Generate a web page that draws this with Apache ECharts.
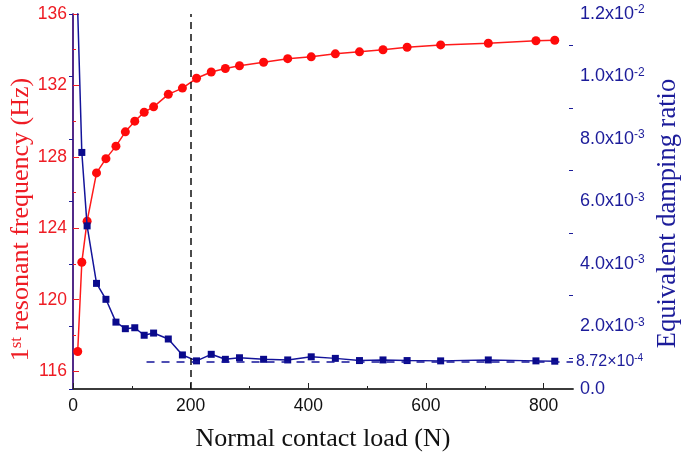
<!DOCTYPE html>
<html><head><meta charset="utf-8">
<script src="https://cdn.jsdelivr.net/npm/echarts@6/dist/echarts.min.js"></script>
<style>html,body{margin:0;padding:0;background:#fff}#c{width:685px;height:458px}</style>
</head><body><div id="c"></div>
<script>
const loads = [8, 15, 24, 40, 56, 73, 89, 105, 121, 137, 162, 186, 210, 235, 259, 283, 324, 365, 405, 446, 487, 527, 568, 625, 706, 787, 819];
const freq = [117.1, 122.1, 124.4, 127.1, 127.9, 128.6, 129.4, 130.0, 130.5, 130.8, 131.5, 131.85, 132.4, 132.75, 132.95, 133.1, 133.3, 133.5, 133.6, 133.77, 133.88, 134.0, 134.14, 134.27, 134.36, 134.5, 134.53];
const damping = [0.0121, 0.00757, 0.00522, 0.00338, 0.00287, 0.00214, 0.00193, 0.00196, 0.00172, 0.00179, 0.0016, 0.00109, 0.0009, 0.00111, 0.00095, 0.001, 0.00095, 0.00093, 0.00103, 0.00098, 0.00091, 0.00093, 0.00091, 0.0009, 0.00093, 0.0009, 0.00089];
const xLabels = [0, 200, 400, 600, 800];
const xMinor = [100, 300, 500, 700];
const freqLabels = [116, 120, 124, 128, 132, 136];
const freqMinor = [118, 122, 126, 130, 134];
const dampLabels = [0, 0.002, 0.004, 0.006, 0.008, 0.010, 0.012];
const dampMinor = [0.001, 0.003, 0.005, 0.007, 0.009, 0.011];
const refDamping = 0.000872;
const refStart = 125;
const verticalRef = 200;

const RED = '#ee1c24', BLUE = '#1c1c9a';
const sans = 'Liberation Sans', serif = 'Liberation Serif';
function expFmt(v) {
  if (Math.abs(v) < 1e-12) return '{b|0.0}';
  const e = Math.floor(Math.log10(v) + 1e-9);
  const m = (v / Math.pow(10, e)).toFixed(1);
  return '{b|' + m + 'x10}{s|' + e + '}';
}
const chart = echarts.init(document.getElementById('c'));
chart.setOption({
  animation: false,
  grid: {left: 73, right: 112, top: 14, bottom: 69, containLabel: false, outerBoundsMode: 'none'},
  xAxis: [
    {type: 'value', min: 0, max: 850, position: 'bottom',
     name: 'Normal contact load (N)', nameLocation: 'middle', nameGap: 37, nameMoveOverlap: false,
     nameTextStyle: {fontFamily: serif, fontSize: 26, color: '#111'},
     axisLine: {lineStyle: {color: '#222', width: 1.5}},
     axisTick: {inside: true, length: 6, customValues: xLabels, lineStyle: {color: '#222'}},
     axisLabel: {customValues: xLabels, fontFamily: sans, fontSize: 17.5, color: '#111', margin: 8},
     splitLine: {show: false}},
    {type: 'value', min: 0, max: 850, position: 'top',
     axisLine: {lineStyle: {color: '#333', width: 1.5}}, axisTick: {show: false},
     axisLabel: {show: false}, splitLine: {show: false}},
    {type: 'value', min: 0, max: 850, position: 'bottom',
     axisLine: {show: false},
     axisTick: {inside: true, length: 3, customValues: xMinor, lineStyle: {color: '#222'}},
     axisLabel: {show: false}, splitLine: {show: false}}
  ],
  yAxis: [
    {type: 'value', min: 115, max: 136, position: 'left',
     name: '{a|1}{s|st}{a| resonant frequency (Hz)}', nameLocation: 'middle', nameGap: 39, nameRotate: 90,
     nameMoveOverlap: false,
     nameTextStyle: {color: RED, padding: [0, 36, 0, 0],
       rich: {a: {fontFamily: serif, fontSize: 26, color: RED},
              s: {fontFamily: serif, fontSize: 17, color: RED, verticalAlign: 'top', padding: [0, 0, 9, 0]}}},
     axisLine: {lineStyle: {color: RED, width: 1.5}},
     axisTick: {inside: true, length: 6, customValues: freqLabels, lineStyle: {color: RED}},
     axisLabel: {customValues: freqLabels, fontFamily: sans, fontSize: 17.5, color: RED, margin: 6},
     splitLine: {show: false}},
    {type: 'value', min: 0, max: 0.012, position: 'right',
     name: 'Equivalent damping ratio', nameLocation: 'middle', nameGap: 82, nameRotate: 90,
     nameMoveOverlap: false,
     nameTextStyle: {fontFamily: serif, fontSize: 26.5, color: BLUE, padding: [0, 24, 0, 0]},
     axisLine: {lineStyle: {color: BLUE, width: 1.5}},
     axisTick: {inside: true, length: 4, customValues: dampLabels, lineStyle: {color: BLUE}},
     axisLabel: {customValues: dampLabels, formatter: expFmt, margin: 7,
       rich: {b: {fontFamily: sans, fontSize: 18, color: BLUE},
              s: {fontFamily: sans, fontSize: 12, color: BLUE, verticalAlign: 'top', padding: [0, 0, 8, 0]}}},
     splitLine: {show: false}},
    {type: 'value', min: 115, max: 136, position: 'left',
     axisLine: {show: false},
     axisTick: {inside: true, length: 3, customValues: freqMinor, lineStyle: {color: RED}},
     axisLabel: {show: false}, splitLine: {show: false}},
    {type: 'value', min: 0, max: 0.012, position: 'right',
     axisLine: {show: false},
     axisTick: {inside: true, length: 4, customValues: dampMinor, lineStyle: {color: BLUE}},
     axisLabel: {show: false}, splitLine: {show: false}}
  ],
  series: [
    {type: 'line', xAxisIndex: 0, yAxisIndex: 0,
     data: loads.map((x, i) => [x, freq[i]]),
     symbol: 'circle', symbolSize: 9,
     itemStyle: {color: '#ff0a0a'}, lineStyle: {color: '#ff1a1a', width: 1.5},
     markLine: {silent: true, symbol: 'none', label: {show: false},
       lineStyle: {color: '#111', type: [7, 5], width: 1.5},
       data: [{xAxis: verticalRef}]},
     z: 2},
    {type: 'line', xAxisIndex: 0, yAxisIndex: 1,
     data: loads.map((x, i) => [x, damping[i]]),
     symbol: 'rect', symbolSize: 7, clip: true,
     itemStyle: {color: '#0a0a8c'}, lineStyle: {color: '#14149a', width: 1.5},
     markLine: {silent: true, symbol: 'none',
       lineStyle: {color: '#14149a', type: [8, 7], width: 1.5},
       label: {show: true, position: 'end', distance: 3, formatter: '{b|8.72×10}{s|-4}',
         rich: {b: {fontFamily: sans, fontSize: 16, color: BLUE},
                s: {fontFamily: sans, fontSize: 10, color: BLUE, verticalAlign: 'top', padding: [0, 0, 7, 0]}}},
       data: [[{coord: [refStart, refDamping]}, {coord: [850, refDamping]}]]},
     z: 3}
  ]
});
</script></body></html>
